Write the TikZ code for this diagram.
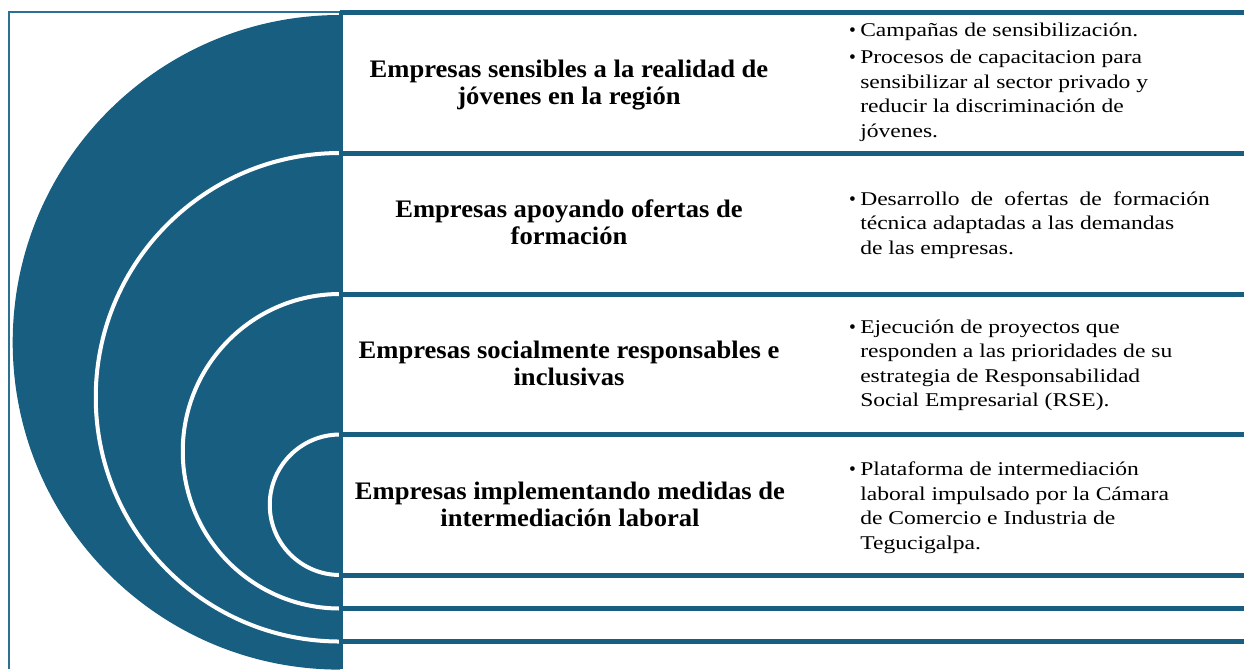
\documentclass[tikz,border=0pt]{standalone}
\usepackage{fontspec}
\setmainfont{Liberation Serif}
\newfontfamily\lblfont[FakeStretch=1.055]{Liberation Serif}
\newfontfamily\txtfont[FakeStretch=1.21]{Liberation Serif}
\newfontfamily\bulfont{Liberation Serif}
\definecolor{navy}{RGB}{23,94,128}
\definecolor{framec}{RGB}{45,112,148}
\begin{document}
\begin{tikzpicture}[x=0.75pt,y=0.75pt,yscale=-1,
  bar/.style={draw=navy,line width=3.75pt},
  vbar/.style={draw=navy,line width=3pt},
  ring/.style={draw=white,line width=3pt},
  framel/.style={draw=framec,line width=1pt},
  lbl/.style={anchor=north,inner sep=0pt,align=center,
    font=\lblfont\bfseries\fontsize{18.9pt}{20.25pt}\selectfont},
  txt/.style={anchor=north west,inner sep=0pt,align=left,
    font=\txtfont\fontsize{14.6pt}{18.4pt}\selectfont},
  bul/.style={anchor=base,inner sep=0pt,
    font=\bulfont\fontsize{14.6pt}{18.4pt}\selectfont}]
\useasboundingbox (0,0) rectangle (1244,669);
% frame
\draw[framel] (9,669) -- (9,12) -- (340,12);
% blue half disc with white rings
\begin{scope}
  \clip (0,0) rectangle (340,669);
  \fill[navy] (340,342.3) circle[radius=327.3];
  \draw[ring] (340,397.25) circle[radius=244.25];
  \draw[ring] (340,451.25) circle[radius=157.25];
  \draw[ring] (340,504.75) circle[radius=70.25];
\end{scope}
% horizontal bars
\foreach \yy in {12.5,153,294,434.5,575,608.5,641.5}
  \draw[bar] (340,\yy) -- (1244,\yy);
% vertical line
\draw[vbar] (340.5,10.6) -- (340.5,669);
% labels
\node[lbl] (l1) at (569,58.1) {\strut Empresas sensibles a la realidad de\\jóvenes en la región};
\node[lbl] (l2) at (569,198.6) {\strut Empresas apoyando ofertas de\\formación};
\node[lbl] (l3) at (569,339.35) {\strut Empresas socialmente responsables e\\inclusivas};
\node[lbl] (l4) at (570,479.85) {\strut Empresas implementando medidas de\\intermediación laboral};
% bullet texts
\node[bul] (b1a) at (852.5,36.7) {•};
\node[txt] (t1a) at (860,19.5) {\strut Campañas de sensibilización.};
\node[bul] (b1b) at (852.5,63.3) {•};
\node[txt] (t1b) at (860,46.1) {\strut Procesos de capacitacion para\\sensibilizar al sector privado y\\reducir la discriminación de\\jóvenes.};
\node[bul] (b2) at (852.5,205) {•};
\node[txt] (t2) at (860,187.8) {\strut Desarrollo\hspace{4pt} de\hspace{4pt} ofertas\hspace{4pt} de\hspace{4pt} formación\\técnica adaptadas a las demandas\\de las empresas.};
\node[bul] (b3) at (852.5,333) {•};
\node[txt] (t3) at (860,315.8) {\strut Ejecución de proyectos que\\responden a las prioridades de su\\estrategia de Responsabilidad\\Social Empresarial (RSE).};
\node[bul] (b4) at (852.5,475.5) {•};
\node[txt] (t4) at (860,458.3) {\strut Plataforma de intermediación\\laboral impulsado por la Cámara\\de Comercio e Industria de\\Tegucigalpa.};
\end{tikzpicture}
\end{document}
